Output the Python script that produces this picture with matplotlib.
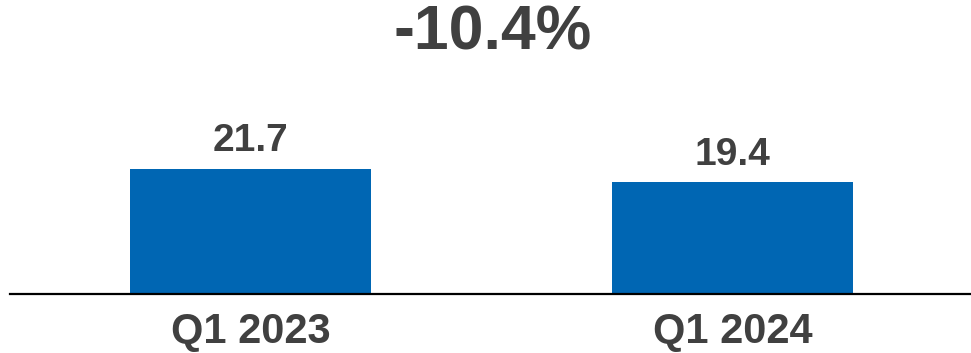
import matplotlib.pyplot as plt

# quarterly values
quarters = ["Q1 2023", "Q1 2024"]
values = [21.7, 19.4]
change_label = "-10.4%"

bar_color = "#0066B3"
text_color = "#404040"

plt.rcParams['font.family'] = ['Liberation Sans', 'DejaVu Sans']

fig = plt.figure(figsize=(9.71, 3.53), dpi=100)
ax = fig.add_axes([10 / 971, 59 / 353, 961 / 971, 294 / 353])

x = range(len(quarters))
bars = ax.bar(x, values, width=0.5, color=bar_color)

ax.set_xlim(-0.5, 1.495)
ax.set_ylim(0, 294 / 5.76)

for b, v in zip(bars, values):
    ax.annotate(f"{v:.1f}", (b.get_x() + b.get_width() / 2, v),
                xytext=(0, 7), textcoords="offset points",
                ha="center", va="bottom", fontsize=28, fontweight="bold",
                color=text_color)

ax.set_xticks(list(x))
ax.set_xticklabels(quarters, fontsize=30, fontweight="bold", color=text_color)
ax.tick_params(axis="x", length=0, pad=13)
ax.set_yticks([])

for s in ["top", "right", "left"]:
    ax.spines[s].set_visible(False)
ax.spines["bottom"].set_linewidth(1.6)
ax.spines["bottom"].set_color("black")

fig.text(493 / 971, 1 - 33 / 353, change_label, ha="center", va="center",
         fontsize=45, fontweight="bold", color=text_color)

fig.savefig("out.png", dpi=100)
